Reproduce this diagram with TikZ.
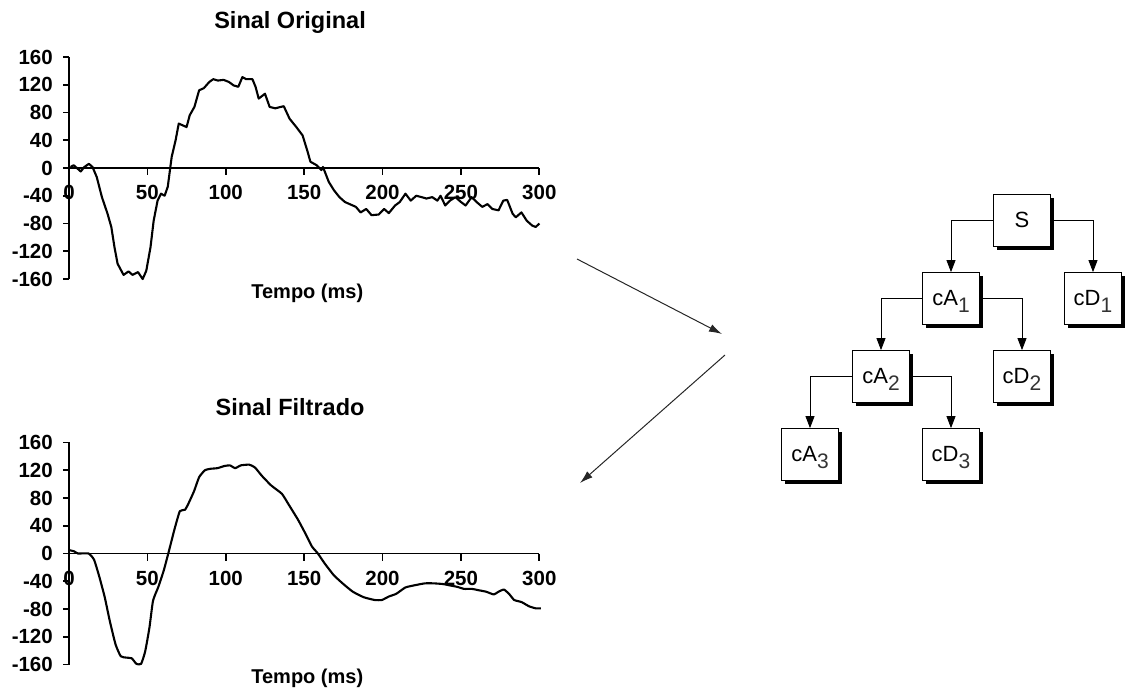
\documentclass[tikz,border=0pt]{standalone}
\usepackage{fontspec}
\setmainfont{Liberation Sans}
\usetikzlibrary{arrows.meta,shadows}
\newcommand\mysub[1]{\raisebox{-6.5pt}[0pt][0pt]{\fontsize{21}{24}\selectfont\color{black!80}#1}}
\begin{document}
\begin{tikzpicture}[x=1pt,y=-1pt,
  ticklab/.style={font=\fontsize{20.5}{22}\selectfont\bfseries, inner sep=0pt},
  titlelab/.style={font=\fontsize{23.5}{26}\selectfont\bfseries, inner sep=0pt},
  axislab/.style={font=\fontsize{20}{22}\selectfont\bfseries, inner sep=0pt},
  axisline/.style={line width=1.7pt},
  signal/.style={line width=2.1pt, line join=round},
  coef/.style={draw=black, line width=0.8pt, fill=white, minimum width=57pt, minimum height=52pt, inner sep=0pt,
    font=\fontsize{22}{24}\selectfont,
    drop shadow={shadow xshift=3.6pt, shadow yshift=-3.6pt, fill=black, opacity=1}},
  tree/.style={line width=0.8pt, -{Triangle[length=12pt,width=9pt]}},
  flow/.style={line width=1pt, draw=black!85, -{Latex[length=13pt,width=8pt]}},
]
\useasboundingbox (0,0) rectangle (1125,691);

% ---------- top plot ----------
\begin{scope}[shift={(69pt,-168pt)}, x=1.5677pt, y=0.694pt]
  \node[titlelab] (t1title) at (141,0) [yshift=146pt] {Sinal Original};
  \draw[axisline] (0,-160) -- (0,160);
  \draw[axisline] (0,0) -- (300,0);
  \foreach \v [count=\i] in {-160,-120,-80,-40,0,40,80,120,160} {
    \draw[axisline] (0,\v) -- ++(-6pt,0);
    \node[ticklab, anchor=east, xshift=-16pt] (ay\i) at (0,\v) {\v};
  }
  \foreach \t [count=\i] in {0,50,100,150,200,250,300} {
    \draw[axisline] (\t,0) -- ++(0,-7pt);
    \node[ticklab, yshift=-24.7pt] (ax\i) at (\t,0) {\t};
  }
  \node[axislab] (t1xl) at (152,0) [yshift=-125pt] {Tempo (ms)};
  \draw[signal] plot coordinates {(1,1.5) (3,4) (5.5,-1) (7.5,-5) (9.8,1.5) (12.7,6) (15,1.5) (17.7,-13) (21,-42) (24.6,-66) (27,-85) (29,-114) (31,-138) (34.8,-154) (38,-149) (40.5,-154) (44,-150) (47,-160) (49.3,-148) (52,-114) (54,-76) (56.5,-47) (58.7,-37) (61,-40) (63,-27) (65.5,16) (68,40) (70,64) (72,62) (75,59) (77,76) (80,88) (83,112) (86,115) (89.5,124) (92,128) (95,126) (98.6,127) (102,124) (105,119) (108,117) (110.6,131) (113,128) (117,128) (119,117) (121,100) (125,107) (128,88) (131.6,86) (135,88) (137,89) (140.7,71) (145,59) (149,47) (152,25) (154,9) (158,4) (161,-3) (162,1.5) (165.7,-20) (169,-32) (172.5,-42) (176,-49) (179,-52) (183,-56) (186,-64) (189.6,-59) (193,-68) (197.6,-67) (201,-59) (204,-65) (208,-54) (211,-49) (214.6,-37) (218,-47) (221.5,-40) (225,-42) (228,-44) (231.7,-42) (235,-47) (237,-40) (240,-54) (243,-47) (246.5,-42) (250,-49) (253,-54) (256.8,-42) (260,-49) (263.6,-56) (267,-52) (270,-59) (274,-61) (277,-47) (279.5,-46) (283,-66) (285,-71) (288.6,-64) (292,-76) (295.5,-83) (297.7,-85) (300,-80)};
\end{scope}

% ---------- bottom plot ----------
\begin{scope}[shift={(69pt,-553.5pt)}, x=1.5677pt, y=0.694pt]
  \node[titlelab] (t2title) at (141,0) [yshift=146pt] {Sinal Filtrado};
  \draw[axisline] (0,-160) -- (0,160);
  \draw[axisline] (0,0) -- (300,0);
  \foreach \v [count=\i] in {-160,-120,-80,-40,0,40,80,120,160} {
    \draw[axisline] (0,\v) -- ++(-6pt,0);
    \node[ticklab, anchor=east, xshift=-16pt] (by\i) at (0,\v) {\v};
  }
  \foreach \t [count=\i] in {0,50,100,150,200,250,300} {
    \draw[axisline] (\t,0) -- ++(0,-7pt);
    \node[ticklab, yshift=-24.7pt] (bx\i) at (\t,0) {\t};
  }
  \node[axislab] (t2xl) at (152,0) [yshift=-125pt] {Tempo (ms)};
  \draw[signal] plot[smooth, tension=0.3] coordinates {(0,5) (3.4,3) (5.7,0) (12.5,0) (16,-9) (19.4,-34) (22.8,-63) (26,-97) (29.7,-131) (33,-148) (36.5,-150) (40,-151) (43,-159) (46,-159) (48.6,-141) (51.3,-107) (53.6,-68) (57,-48) (60.5,-24) (63.9,5) (67.3,35) (70.7,61) (74,63) (76.4,73) (79.8,90) (83,110) (86.7,120) (90,122) (94.7,123) (99,126) (102.6,127) (106,123) (109.6,127) (115,128) (118.6,124) (123,112) (129,98) (135.8,86) (140,71) (146,49) (150.5,30) (155,10) (158.6,0.5) (163,-14) (168.8,-31) (174.5,-43) (181,-55) (188,-63) (195,-67) (199.6,-67) (204,-62) (208.8,-58) (214.5,-49) (220,-46) (227,-43) (232.7,-43) (238.5,-44) (243,-46) (247.6,-48) (252,-51) (257,-51) (261.5,-53) (266,-55) (271,-59) (274,-55) (277.5,-52) (281,-59) (284,-67) (288.7,-70) (293.4,-76) (297.7,-79) (301,-79)};
\end{scope}

% ---------- flow arrows ----------
\coordinate (f1s) at (577,259);
\coordinate (f1e) at (722,334);
\coordinate (f2s) at (725,355);
\coordinate (f2e) at (580,483);
\draw[flow] (f1s) -- (f1e);
\draw[flow] (f2s) -- (f2e);

% ---------- decomposition tree ----------
\node[coef] (S)   at (1022,220) {S};
\node[coef] (cA1) at (951,298.5) {cA\mysub{1}};
\node[coef] (cD1) at (1093,298.5) {cD\mysub{1}};
\node[coef] (cA2) at (881,376.5) {cA\mysub{2}};
\node[coef] (cD2) at (1022,376.5) {cD\mysub{2}};
\node[coef] (cA3) at (810,454.5) {cA\mysub{3}};
\node[coef] (cD3) at (951,454.5) {cD\mysub{3}};

\draw[tree] (S.west) -| (cA1.north);
\draw[tree] (S.east) -| (cD1.north);
\draw[tree] (cA1.west) -| (cA2.north);
\draw[tree] (cA1.east) -| (cD2.north);
\draw[tree] (cA2.west) -| (cA3.north);
\draw[tree] (cA2.east) -| (cD3.north);
\end{tikzpicture}
\end{document}
